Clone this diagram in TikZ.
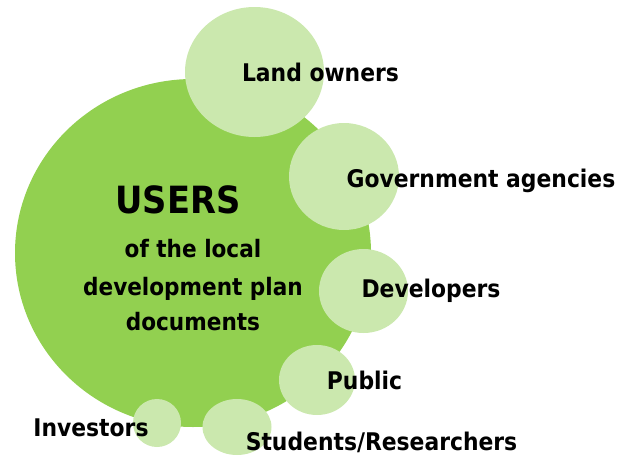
\documentclass[tikz,border=0pt]{standalone}
\usepackage{fontspec}
\setmainfont{DejaVu Sans Condensed}
\usetikzlibrary{shapes.geometric}

\definecolor{usergreen}{RGB}{146,208,80}
\definecolor{palegreen}{RGB}{203,232,174}

\begin{document}
\begin{tikzpicture}[x=1pt,y=-1pt,
    big node/.style={ellipse,fill=usergreen,inner sep=0pt},
    small node/.style={ellipse,fill=palegreen,inner sep=0pt},
    name node/.style={anchor=base,inner sep=0pt,font=\bfseries\fontsize{24.3}{30}\selectfont},
    title node/.style={anchor=base,inner sep=0pt,font=\bfseries\fontsize{24}{28}\selectfont}]
   \useasboundingbox (0,0) rectangle (631,455);
   % the users circle
   \node[big node,minimum width=356pt,minimum height=348pt] (users) at (193,253) {};
   % the groups round it
   \node[small node,minimum width=139pt,minimum height=130pt] (owners) at (254.5,72) {};
   \node[small node,minimum width=110pt,minimum height=107pt] (gov) at (344,176.5) {};
   \node[small node,minimum width=89pt,minimum height=84pt] (dev) at (363.5,291) {};
   \node[small node,minimum width=76pt,minimum height=70pt] (pub) at (317,380) {};
   \node[small node,minimum width=69pt,minimum height=56pt] (stud) at (237,427) {};
   \node[small node,minimum width=48pt,minimum height=48pt] (inv) at (157,423) {};
   % text in the middle
   \node[anchor=base,inner sep=0pt,font=\bfseries\fontsize{37.5}{44}\selectfont] (usersname) at (178,213) {USERS};
   \node[title node] (line1) at (193,257) {of the local};
   \node[title node] (line2) at (193,295) {development plan};
   \node[title node] (line3) at (193,330) {documents};
   % group names
   \node[name node] (ownersname) at (320.5,81) {Land owners};
   \node[name node] (govname) at (481,187) {Government agencies};
   \node[name node] (devname) at (431,297) {Developers};
   \node[name node] (pubname) at (364.5,389) {Public};
   \node[name node] (invname) at (91,436) {Investors};
   \node[name node] (studname) at (381.5,450) {Students/Researchers};
\end{tikzpicture}
\end{document}
